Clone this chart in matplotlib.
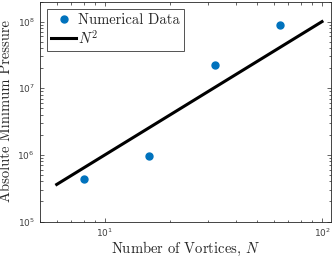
import numpy as np
import matplotlib.pyplot as plt

# data
N_data = [8, 16, 32, 64]
p_data = [4.4e5, 9.5e5, 2.25e7, 8.8e7]
N_fit = [6, 100]
fit_scale = 1e4   # p ~ scale * N^2

matlab_blue = '#0072BD'
grey = '#262626'

fig = plt.figure(figsize=(3.32, 2.57), dpi=100)
ax = fig.add_axes([0.119, 0.138, 0.878, 0.856])

ax.plot(N_data, p_data, 'o', color=matlab_blue, markersize=5, label='Numerical Data')
N_line = np.array(N_fit, dtype=float)
ax.plot(N_line, fit_scale * N_line**2, color='black', lw=2.2, label='$N^2$')

ax.set_xscale('log')
ax.set_yscale('log')
ax.set_xlim(5, 110)
ax.set_ylim(1e5, 2e8)

ax.tick_params(which='both', direction='in', top=True, right=True,
               labelsize=6.5, colors=grey, labelcolor='#404040', width=0.5)
ax.tick_params(which='major', length=3)
ax.tick_params(which='minor', length=1.8)
for s in ax.spines.values():
    s.set_color(grey)
    s.set_linewidth(0.6)

ax.set_xlabel('Number of Vortices, $N$', fontfamily='cmr10', math_fontfamily='cm',
              fontsize=10.5, color=grey, labelpad=1)
ax.set_ylabel('Absolute Minimum Pressure', fontfamily='cmr10', math_fontfamily='cm',
              fontsize=10.5, color=grey, labelpad=3)

leg = ax.legend(loc='upper left', fontsize=10.5, frameon=True, fancybox=False,
                handlelength=1.7, handletextpad=0.15, borderpad=0.3,
                labelspacing=0.1, borderaxespad=0.5)
leg.get_frame().set_edgecolor(grey)
leg.get_frame().set_linewidth(0.7)
for t in leg.get_texts():
    t.set_fontfamily('cmr10')
    t.set_math_fontfamily('cm')
    t.set_color(grey)

fig.savefig('out.png', dpi=100)
